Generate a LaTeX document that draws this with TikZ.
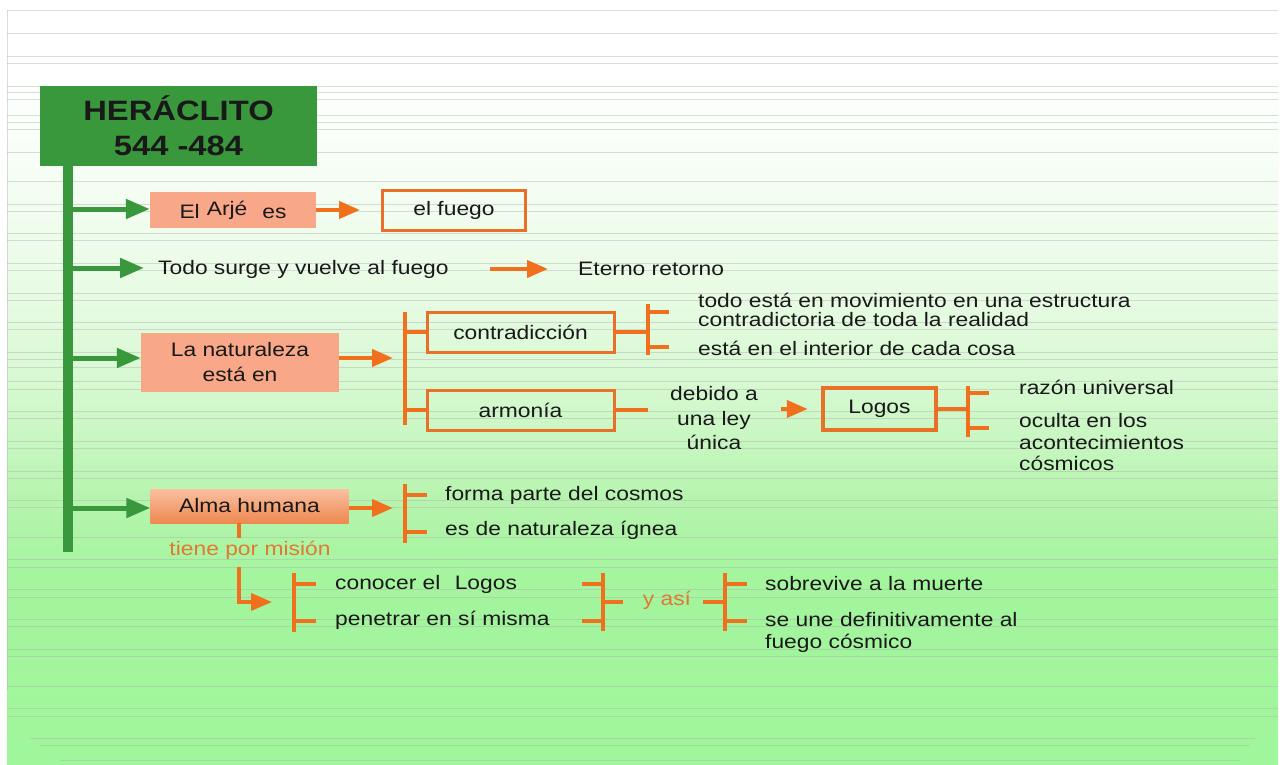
\documentclass[tikz,border=0pt]{standalone}
\usepackage{fontspec}
\setmainfont{Liberation Sans}[FakeStretch=1.17]
\usetikzlibrary{arrows.meta}
\definecolor{gr}{RGB}{58,152,60}
\definecolor{orl}{RGB}{240,112,30}
\definecolor{orb}{RGB}{232,112,40}
\definecolor{ort}{RGB}{226,120,50}
\definecolor{salm}{RGB}{248,168,136}
\definecolor{salmtop}{RGB}{250,192,160}
\definecolor{salmbot}{RGB}{238,136,80}
\definecolor{bgA}{RGB}{160,246,154}
\definecolor{bgB}{RGB}{164,245,158}
\definecolor{bgC}{RGB}{182,244,174}
\definecolor{bgD}{RGB}{210,248,204}
\definecolor{bgE}{RGB}{230,251,226}
\definecolor{bgF}{RGB}{242,253,240}
\definecolor{bgG}{RGB}{251,255,251}
\pgfdeclareverticalshading{bgsh}{100bp}{color(0bp)=(bgA); color(25bp)=(bgA); color(37.5bp)=(bgB); color(42.5bp)=(bgC); color(49bp)=(bgD); color(55.5bp)=(bgE); color(62bp)=(bgF); color(68.5bp)=(bgG); color(71.5bp)=(white); color(100bp)=(white)}
\newcommand\fs{\fontsize{19.5}{23}\selectfont}
\begin{document}
\begin{tikzpicture}[x=1pt,y=-1pt,
  txt/.style={font=\fs, inner sep=0pt, anchor=west, align=left, text=black!90},
  sbox/.style={fill=salm, font=\fs, inner sep=0pt, align=center, text=black!90},
  obox/.style={draw=orb, line width=3pt, font=\fs, inner sep=0pt, align=center, text=black!90},
  garrow/.style={draw=gr, line width=5pt, -{Triangle[length=24pt,width=19pt]}},
  oarrow/.style={draw=orl, line width=4pt, -{Triangle[length=21pt,width=17pt]}},
  obr/.style={draw=orl, line width=4pt},
  bgline/.style={draw=black!30, line width=0.8pt, opacity=0.45}]
\useasboundingbox (0,0) rectangle (1283,765);
\fill[white] (0,0) rectangle (1283,765);
\shade[shading=bgsh] (7,10) rectangle (1278,765);
\foreach \yy in {10,33,56,63,86,92,99,115,122,129,152,181,204,211,233,240,263,270,293,300,322,329,352,359,367,381,389,411,418,441,448,471,478,500,507,537,559,567,589,597,619,626,649,656,686,708,716}
  \draw[bgline] (7,\yy) -- (1278,\yy);
\draw[bgline] (30,738) -- (1255,738);
\draw[bgline] (40,745) -- (1250,745);
\draw[bgline] (60,760) -- (1240,760);
\draw[bgline] (7,10) -- (7,690);

% title and trunk
\node[fill=gr, minimum width=277, minimum height=80, inner sep=0pt, align=center,
      font=\bfseries\fontsize{28}{35}\selectfont, text=black!90] (her) at (178.5,126) {HERÁCLITO\\544 -484};
\coordinate (tb) at (68,552);
\draw[draw=gr, line width=10pt] (her.south -| tb) -- (tb);
\coordinate (t1) at (68,209);
\coordinate (t2) at (68,268);
\coordinate (t3) at (68,358);
\coordinate (t4) at (68,508);

% row 1
\node[sbox, minimum width=166, minimum height=36] (arje) at (233,210)
  {El\hspace{7pt}\raisebox{3pt}{Arjé}\hspace{15pt}es};
\node[obox, minimum width=143, minimum height=39] (fuego) at (454,210.5) {el fuego};
\draw[garrow] (t1) -- (t1 -| arje.west);
\draw[oarrow, shorten >=21pt] (arje.east) -- (arje.east -| fuego.west);

% row 2
\node[txt] (todo) at (158,269) {Todo surge y vuelve al fuego};
\node[txt] (eterno) at (578,269) {Eterno retorno};
\draw[garrow, shorten >=14pt] (t2) -- (t2 -| todo.west);
\draw[oarrow, shorten <=41pt, shorten >=30pt] (todo.east) -- (eterno.west);

% row 3
\node[sbox, minimum width=198, minimum height=59, font=\fontsize{19.5}{25}\selectfont] (nat) at (240,362.5) {La naturaleza\\está en};
\draw[garrow] (t3) -- (t3 -| nat.west);
\coordinate (b1t) at (405,312);
\coordinate (b1b) at (405,425);
\coordinate (b1m) at (405,358);
\draw[oarrow, shorten >=12pt] (b1m -| nat.east) -- (b1m);
\draw[obr] (b1t) -- (b1b);
\node[obox, minimum width=187, minimum height=40] (contr) at (520.5,332) {contradicción};
\node[obox, minimum width=187, minimum height=40] (arm) at (520.5,410) {armonía};
\draw[obr] (b1t |- contr) -- (contr.west);
\draw[obr] (b1t |- arm) -- (arm.west);

\coordinate (b2t) at (648,304);
\coordinate (b2b) at (648,355);
\draw[obr] (b2t) -- (b2b);
\draw[obr] (contr.east) -- (contr.east -| b2t);
\coordinate (b2u) at (669,312);
\coordinate (b2l) at (669,347);
\draw[obr] (b2u -| b2t) -- (b2u);
\draw[obr] (b2l -| b2t) -- (b2l);
\node[txt, font=\fontsize{19.5}{19}\selectfont] (tmov) at (698,309.5) {todo está en movimiento en una estructura\\contradictoria de toda la realidad};
\node[txt] (tint) at (698,348) {está en el interior de cada cosa};

\draw[obr] (arm.east) -- (arm.east -| b2t);
\node[font=\fontsize{19.5}{24.5}\selectfont, inner sep=0pt, align=center, text=black!90] (debido) at (714,418.5) {debido a\\una ley\\única};
\node[draw=orb, line width=4.5pt, minimum width=113, minimum height=42, inner sep=0pt, font=\fs, text=black!90] (logos) at (879.5,409) {Logos};
\draw[oarrow, shorten <=23pt, shorten >=13pt] (debido.east |- logos) -- (logos.west);
\coordinate (b3t) at (968,386);
\coordinate (b3b) at (968,437);
\draw[obr] (b3t) -- (b3b);
\draw[obr] (logos.east) -- (logos.east -| b3t);
\coordinate (b3u) at (989,393);
\coordinate (b3l) at (989,428);
\draw[obr] (b3u -| b3t) -- (b3u);
\draw[obr] (b3l -| b3t) -- (b3l);
\node[txt] (razon) at (1019,387) {razón universal};
\node[txt, font=\fontsize{19.5}{21.5}\selectfont] (oculta) at (1019,442.5) {oculta en los\\acontecimientos\\cósmicos};

% row 4
\node[top color=salmtop, bottom color=salmbot, minimum width=198, minimum height=34, inner sep=0pt, font=\fs, text=black!90] (alma) at (249.5,506) {Alma humana};
\draw[garrow] (t4) -- (t4 -| alma.west);
\coordinate (b4t) at (405,484);
\coordinate (b4b) at (405,543);
\coordinate (b4m) at (405,508);
\draw[oarrow, shorten >=12pt] (b4m -| alma.east) -- (b4m);
\draw[obr] (b4t) -- (b4b);
\coordinate (b4u) at (427,495);
\coordinate (b4l) at (427,532);
\draw[obr] (b4u -| b4t) -- (b4u);
\draw[obr] (b4l -| b4t) -- (b4l);
\node[txt] (forma) at (445,495) {forma parte del cosmos};
\node[txt] (ignea) at (445,530) {es de naturaleza ígnea};

\node[font=\fs, inner sep=0pt, text=ort] (mis) at (250,550) {tiene por misión};
\coordinate (m1) at (239,523);
\coordinate (m2) at (239,538);
\coordinate (m3) at (239,567);
\draw[obr, line width=3.5pt] (m1 |- alma.south) -- (m2);
\coordinate (b5t) at (294,573);
\coordinate (b5b) at (294,632);
\coordinate (b5m) at (294,602);
\draw[oarrow, line width=3.5pt, shorten >=22pt] (m3) |- (b5m);
\draw[obr] (b5t) -- (b5b);
\coordinate (b5u) at (316,584);
\coordinate (b5l) at (316,621);
\draw[obr] (b5u -| b5t) -- (b5u);
\draw[obr] (b5l -| b5t) -- (b5l);
\node[txt] (conocer) at (335,584) {conocer el\hspace{8pt} Logos};
\node[txt] (penetrar) at (335,620) {penetrar en sí misma};

\coordinate (b6t) at (603,573);
\coordinate (b6b) at (603,631);
\coordinate (b6m) at (603,602);
\draw[obr] (b6t) -- (b6b);
\coordinate (b6u) at (582,584);
\coordinate (b6l) at (582,621);
\draw[obr] (b6u) -- (b6u -| b6t);
\draw[obr] (b6l) -- (b6l -| b6t);
\node[font=\fs, inner sep=0pt, text=ort] (asi) at (667,600) {y así};
\draw[obr, shorten >=20pt] (b6m) -- (b6m -| asi.west);
\coordinate (b7t) at (725,573);
\coordinate (b7b) at (725,631);
\coordinate (b7m) at (725,602);
\draw[obr, shorten <=12pt] (asi.east |- b7m) -- (b7m);
\draw[obr] (b7t) -- (b7b);
\coordinate (b7u) at (747,584);
\coordinate (b7l) at (747,621);
\draw[obr] (b7u -| b7t) -- (b7u);
\draw[obr] (b7l -| b7t) -- (b7l);
\node[txt] (sobre) at (765,584) {sobrevive a la muerte};
\node[txt, font=\fontsize{19.5}{22}\selectfont] (seune) at (765,632) {se une definitivamente al\\fuego cósmico};
\end{tikzpicture}
\end{document}
